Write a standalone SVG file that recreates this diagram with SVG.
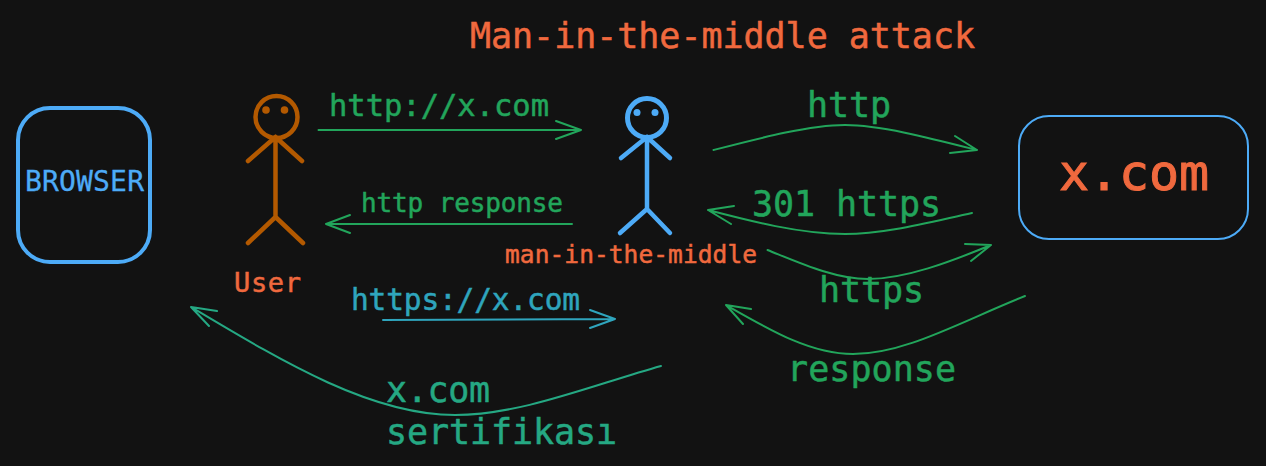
<svg xmlns="http://www.w3.org/2000/svg" width="1266" height="466" viewBox="0 0 1266 466">
<style>
text{font-family:"DejaVu Sans Mono","Liberation Mono",monospace;white-space:pre;stroke-width:.5}
.o{fill:#f0693e;stroke:#f0693e}.g{fill:#22a55b;stroke:#22a55b}.b{fill:#4dabf7;stroke:#4dabf7}.c{fill:#2fa5bd;stroke:#2fa5bd}.t{fill:#25a883;stroke:#25a883}
.fig{fill:none;stroke-linecap:round;stroke-linejoin:round;stroke-width:4.5}
.ln{fill:none;stroke-width:2;stroke-linecap:round;stroke-linejoin:round;stroke:#22a55b}
</style>
<rect width="1266" height="466" fill="#121212"/>
<text class="o" x="470" y="48" font-size="35" textLength="505">Man-in-the-middle attack</text>
<g id="browser"><rect x="18" y="108" width="132" height="154" rx="32" fill="none" stroke="#4dabf7" stroke-width="4"/><text class="b" x="25" y="190.500" font-size="28" textLength="119" style="stroke-width:.3">BROWSER</text></g>
<g id="user" class="fig" stroke="#b35900"><circle cx="276.500" cy="117" r="21"/><path d="M275.500 137V217M275.500 137L248 161M275.500 137L302 161M275.500 217L248 243M275.500 217L303 243"/><circle cx="266" cy="110" r="3.800" fill="#b35900" stroke="none"/><circle cx="284.500" cy="110" r="3.800" fill="#b35900" stroke="none"/></g>
<text class="o" x="234" y="292" font-size="27" textLength="67">User</text>
<g id="mitm" class="fig" stroke="#4dabf7"><circle cx="647" cy="118" r="19.500" stroke-width="5"/><path d="M647 137V209M647 137L621 158M647 137L670 158M647 209L620 233M647 209L670 233"/><circle cx="637" cy="112.500" r="3.500" fill="#4dabf7" stroke="none"/><circle cx="655" cy="112.500" r="3.500" fill="#4dabf7" stroke="none"/></g>
<text class="o" x="505" y="263" font-size="24.500" textLength="252">man-in-the-middle</text>
<g id="server"><rect x="1019" y="116" width="229" height="123" rx="30" fill="none" stroke="#4dabf7" stroke-width="2"/><text class="o" x="1059" y="190" font-size="50" textLength="150" style="stroke-width:1">x.com</text></g>
<g id="connectors">
<path class="ln" d="M318.500 130H581M556 121L581 130L556 139"/>
<path class="ln" d="M572 224H326M350 215L326 224L350 233"/>
<path class="ln" d="M713.500 150C760 138 810 125 845 125C880 125 930 138 977 150M955 136L977 150L950 153"/>
<path class="ln" d="M972 213C930 222 885 234 845 234C800 234 750 221 708 210M734 206L708 210L731 224"/>
<path class="ln" d="M767.500 250C800 263 835 279 868 279C905 279 950 262 991 245M965 244L991 245L971 261"/>
<path class="ln" d="M1025 296C960 322 905 354 853 354C810 354 770 330 726 305M751 309L726 305L743 324"/>
<path class="ln" style="stroke:#2fa5bd" d="M383 320L615 319M590 310L615 319L590 328"/>
<path class="ln" style="stroke:#25a883" d="M661 366C590 386 520 415 455 415C370 415 280 360 191 307M217 311L191 307L209 326"/>
</g>
<text class="g" x="329" y="116" font-size="30.500" textLength="220">http://x.com</text>
<text class="g" x="361" y="212" font-size="26" textLength="202">http response</text>
<text class="g" x="807" y="117" font-size="35" textLength="84">http</text>
<text class="g" x="752" y="216" font-size="35" textLength="189">301 https</text>
<text class="g" x="819" y="302" font-size="35" textLength="105">https</text>
<text class="g" x="787" y="381" font-size="35" textLength="169">response</text>
<text class="c" x="351" y="309.500" font-size="29.500" textLength="229">https://x.com</text>
<text class="t" x="386" y="402" font-size="35" textLength="104">x.com</text>
<text class="t" x="386" y="444" font-size="35" textLength="231">sertifikası</text>
</svg>
